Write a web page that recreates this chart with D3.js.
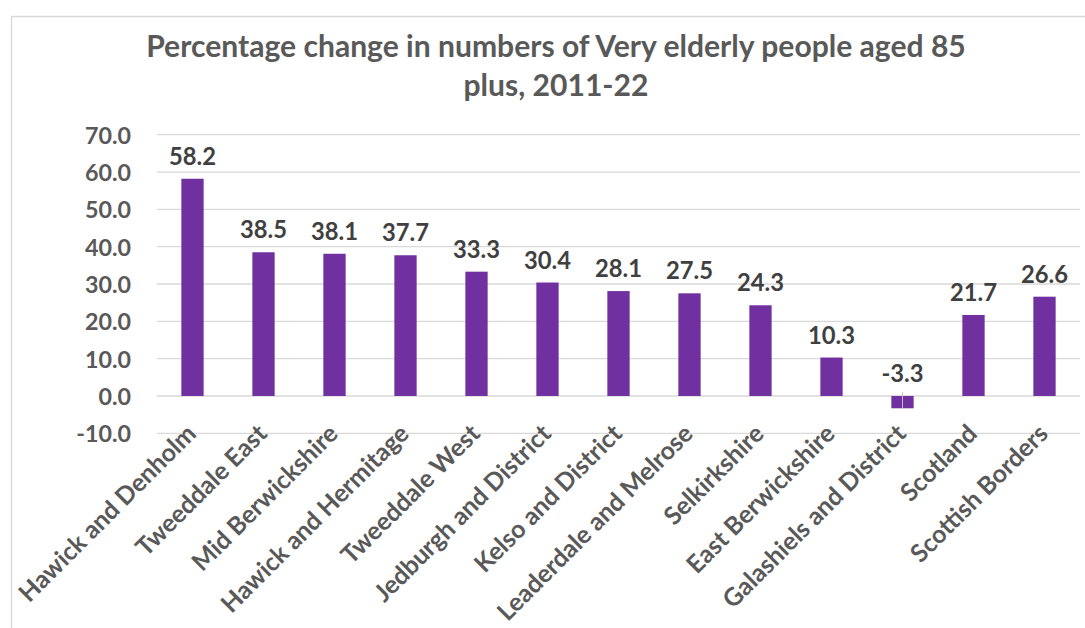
<!DOCTYPE html>
<html>
<head>
<meta charset="utf-8">
<script src="https://cdn.jsdelivr.net/npm/d3@7"></script>
<style>
  html, body { margin: 0; padding: 0; background: #fff; }
  svg { display: block; font-family: Lato, "Open Sans", sans-serif; }
</style>
</head>
<body>
<svg id="chart" width="1085" height="628"></svg>
<script>
const categories = ["Hawick and Denholm", "Tweeddale East", "Mid Berwickshire", "Hawick and Hermitage",
  "Tweeddale West", "Jedburgh and District", "Kelso and District", "Leaderdale and Melrose",
  "Selkirkshire", "East Berwickshire", "Galashiels and District", "Scotland", "Scottish Borders"];
const values = [58.2, 38.5, 38.1, 37.7, 33.3, 30.4, 28.1, 27.5, 24.3, 10.3, -3.3, 21.7, 26.6];
const yTicks = [-10, 0, 10, 20, 30, 40, 50, 60, 70];
const titleLines = ["Percentage change in numbers of Very elderly people aged 85", "plus, 2011-22"];

const svg = d3.select("#chart");
const W = 1085, H = 628;
const plot = { left: 157, right: 1080, top: 134.7, bottom: 433.3 };
const fmt = d => d.toFixed(1); // hyphen-minus like the original

// helper: choose a font size so a sample string measures a target width
function fitSize(sample, target, base) {
  const t = svg.append("text").attr("font-size", base).attr("font-weight", 700).text(sample);
  const w = t.node().getComputedTextLength();
  t.remove();
  return base * target / w;
}
const titleSize = fitSize(titleLines[0], 820, 26);
const catSize = fitSize(categories[0], 238, 22);
const valSize = fitSize("58.2", 47, 22);
const tickSize = fitSize("70.0", 46, 22);

// outer chart border (only top & left visible)
svg.append("path")
  .attr("d", `M11.5,${H} L11.5,16.5 L${W},16.5`)
  .attr("fill", "none").attr("stroke", "#d9d9d9").attr("stroke-width", 1.3);

const x = d3.scaleBand().domain(categories).range([plot.left, plot.right]).paddingInner(0.686).paddingOuter(0.343);
const y = d3.scaleLinear().domain([-10, 70]).range([plot.bottom, plot.top]);

// gridlines
svg.append("g").selectAll("line").data(yTicks).join("line")
  .attr("x1", plot.left).attr("x2", plot.right)
  .attr("y1", d => y(d)).attr("y2", d => y(d))
  .attr("stroke", "#d9d9d9").attr("stroke-width", 1.3);

// y axis labels
const yAxis = d3.axisLeft(y).tickValues(yTicks).tickFormat(fmt).tickSize(0).tickPadding(0);
const gy = svg.append("g").attr("transform", `translate(131,0)`).call(yAxis);
gy.select(".domain").remove();
gy.selectAll("text").attr("fill", "#595959").attr("font-size", tickSize).attr("font-weight", 700)
  .attr("font-family", "Lato, sans-serif").attr("dy", "0.36em");

// bars
svg.append("g").selectAll("rect").data(values).join("rect")
  .attr("x", (d, i) => x(categories[i]))
  .attr("width", x.bandwidth())
  .attr("y", d => y(Math.max(d, 0)))
  .attr("height", d => Math.abs(y(d) - y(0)))
  .attr("fill", "#7030A0");

// small tick across negative bar
svg.append("g").selectAll("line").data(values.map((v, i) => [v, i]).filter(d => d[0] < 0)).join("line")
  .attr("x1", d => x(categories[d[1]]) + x.bandwidth() / 2)
  .attr("x2", d => x(categories[d[1]]) + x.bandwidth() / 2)
  .attr("y1", y(1)).attr("y2", d => y(d[0]))
  .attr("stroke", "#bfbfbf").attr("stroke-width", 1);

// value labels
svg.append("g").selectAll("text").data(values).join("text")
  .attr("x", (d, i) => x(categories[i]) + x.bandwidth() / 2)
  .attr("y", d => y(Math.max(d, 0)) - 14)
  .attr("text-anchor", "middle")
  .attr("fill", "#404040").attr("font-size", valSize).attr("font-weight", 700)
  .text(d => fmt(d));

// category labels
svg.append("g").selectAll("text").data(categories).join("text")
  .attr("transform", d => `translate(${x(d) + x.bandwidth() / 2 + 5},${plot.bottom + 2}) rotate(-45)`)
  .attr("text-anchor", "end")
  .attr("fill", "#595959").attr("font-size", catSize).attr("font-weight", 700)
  .text(d => d);

// title
svg.append("g").selectAll("text").data(titleLines).join("text")
  .attr("x", 556).attr("y", (d, i) => 57 + i * 39)
  .attr("text-anchor", "middle")
  .attr("fill", "#595959").attr("font-size", titleSize).attr("font-weight", 700)
  .text(d => d);
</script>
</body>
</html>
